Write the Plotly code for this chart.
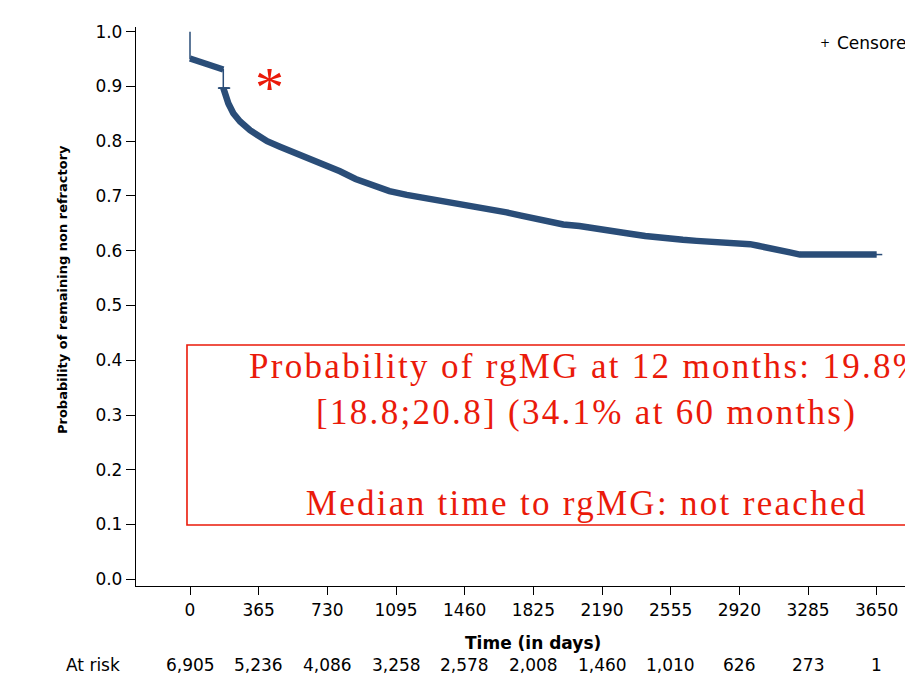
import numpy as np
import plotly.graph_objects as go

# ---- data ----
km_days = [0, 0, 40, 80, 120, 150, 177, 177, 186, 204, 230, 266, 319, 365, 410, 478,
           567, 656, 730, 797, 880, 974, 1060, 1152, 1240, 1329, 1420, 1506, 1600,
           1683, 1760, 1825, 1920, 1984, 2070, 2162, 2230, 2286, 2339, 2420, 2490,
           2551, 2620, 2693, 2780, 2853, 2930, 2977, 3020, 3065, 3120, 3189, 3242, 3650]
km_surv = [1.0, 0.951, 0.947, 0.943, 0.938, 0.935, 0.931, 0.897, 0.884, 0.869, 0.851,
           0.836, 0.820, 0.809, 0.800, 0.790, 0.778, 0.765, 0.755, 0.745, 0.731, 0.718,
           0.709, 0.702, 0.697, 0.693, 0.687, 0.680, 0.675, 0.670, 0.664, 0.659, 0.653,
           0.648, 0.645, 0.641, 0.638, 0.636, 0.631, 0.627, 0.624, 0.621, 0.620, 0.618,
           0.617, 0.615, 0.614, 0.612, 0.609, 0.605, 0.601, 0.597, 0.593, 0.593]
censor_days = [178, 181, 184, 3650]

tick_days = [0, 365, 730, 1095, 1460, 1825, 2190, 2555, 2920, 3285, 3650]
at_risk = ["6,905", "5,236", "4,086", "3,258", "2,578", "2,008", "1,460", "1,010", "626", "273", "1"]
y_ticks = [0.0, 0.1, 0.2, 0.3, 0.4, 0.5, 0.6, 0.7, 0.8, 0.9, 1.0]

box_lines = ["Probability of rgMG at 12 months: 19.8%",
             "[18.8;20.8] (34.1% at 60 months)",
             "",
             "Median time to rgMG: not reached"]

NAVY = "#2a4d78"
RED = "#ea1a0a"
SANS = "DejaVu Sans"
SERIF = "Liberation Serif"

# body margin is removed via post_script, so the figure fills the window
W, H = 905, 677
L = 136
T = 27
B = H - 586
R = 0
pw, ph = W - L - R, H - T - B

fig = go.Figure()

# thin KM line (shows the two vertical drops)
fig.add_trace(go.Scatter(x=km_days, y=km_surv, mode="lines",
                         line=dict(color=NAVY, width=1.5),
                         hoverinfo="skip", showlegend=False))

# dense censoring band (thick), broken at the two vertical drops
drop_idx = 7
band_x = km_days[1:drop_idx] + [None] + km_days[drop_idx:]
band_y = km_surv[1:drop_idx] + [None] + km_surv[drop_idx:]
fig.add_trace(go.Scatter(x=band_x, y=band_y, mode="lines", connectgaps=False,
                         line=dict(color=NAVY, width=6.5),
                         hoverinfo="skip", showlegend=False))

# a few individually visible censor marks
kd = np.array(km_days)
ks = np.array(km_surv)
cy = [float(ks[np.searchsorted(kd, d, side="right") - 1]) for d in censor_days]
fig.add_trace(go.Scatter(x=censor_days, y=cy, mode="markers",
                         marker=dict(symbol="line-ew", size=8,
                                     line=dict(color=NAVY, width=1.5)),
                         hoverinfo="skip", showlegend=False))

# annotation box
fig.add_shape(type="rect", xref="x", yref="y", x0=-16, x1=4500, y0=0.0992, y1=0.4279,
              line=dict(color=RED, width=1.6), fillcolor="rgba(0,0,0,0)")


def pxx(X):
    return (X - L) / pw


def pxy(Y):
    return (H - B - Y) / ph


box_text = "<br>".join(
    (f'<span style="letter-spacing:2.3px">{ln}</span>' if ln else " ") for ln in box_lines)
annotations = [
    dict(x=2110, y=0.2636, xref="x", yref="y", text=box_text, showarrow=False,
         font=dict(family=SERIF, size=35, color=RED), align="center",
         xanchor="center", yanchor="middle"),
    dict(x=425, y=0.908, xref="x", yref="y", text="*", showarrow=False,
         font=dict(family=SERIF, size=58, color=RED), xanchor="center", yanchor="middle",
         yshift=-5),
    # legend
    dict(x=pxx(818), y=pxy(43), xref="paper", yref="paper", text="+", showarrow=False,
         font=dict(family=SANS, size=12, color="black"), xanchor="left", yanchor="middle"),
    dict(x=pxx(835), y=pxy(43), xref="paper", yref="paper", text="Censored", showarrow=False,
         font=dict(family=SANS, size=17, color="black"), xanchor="left", yanchor="middle"),
    # axis titles
    dict(x=1825, y=pxy(643), xref="x", yref="paper", text="<b>Time (in days)</b>", showarrow=False,
         font=dict(family=SANS, size=17, color="black"), xanchor="center", yanchor="middle"),
    dict(x=pxx(62), y=pxy(290), xref="paper", yref="paper",
         text="<b>Probability of remaining non refractory</b>",
         showarrow=False, textangle=-90,
         font=dict(family=SANS, size=13, color="black"), xanchor="center", yanchor="middle"),
    dict(x=pxx(93), y=pxy(665), xref="paper", yref="paper", text="At risk", showarrow=False,
         font=dict(family=SANS, size=17, color="black"), xanchor="center", yanchor="middle"),
]

for d, n in zip(tick_days, at_risk):
    annotations.append(dict(x=d, y=pxy(665), xref="x", yref="paper", text=n,
                            showarrow=False, font=dict(family=SANS, size=17, color="black"),
                            xanchor="center", yanchor="middle"))

px_per_day = 0.18813
x_left = (L - 190) / px_per_day
x_right = x_left + pw / px_per_day
px_per_unit = 547.6
y_bot = -(586 - 579.3) / px_per_unit
y_top = y_bot + ph / px_per_unit

fig.update_layout(
    width=W, height=H,
    margin=dict(l=L, r=R, t=T, b=B, pad=0),
    paper_bgcolor="white", plot_bgcolor="white",
    annotations=annotations,
    showlegend=False,
    xaxis=dict(range=[x_left, x_right], tickmode="array", tickvals=tick_days,
               ticktext=[str(d) for d in tick_days],
               ticks="outside", ticklen=8, tickwidth=1.3, tickcolor="black",
               showline=True, linecolor="black", linewidth=1.3,
               showgrid=False, zeroline=False,
               tickfont=dict(family=SANS, size=17, color="black")),
    yaxis=dict(range=[y_bot, y_top], tickmode="array", tickvals=y_ticks,
               ticktext=[f"{v:.1f}" for v in y_ticks],
               ticks="outside", ticklen=9, tickwidth=1.3, tickcolor="black",
               showline=True, linecolor="black", linewidth=1.3,
               showgrid=False, zeroline=False,
               tickfont=dict(family=SANS, size=17, color="black")),
)

fig.write_html("out.html",
               config={"displayModeBar": False},
               post_script="document.body.style.margin='0';"
                           "document.documentElement.style.overflow='hidden';")
